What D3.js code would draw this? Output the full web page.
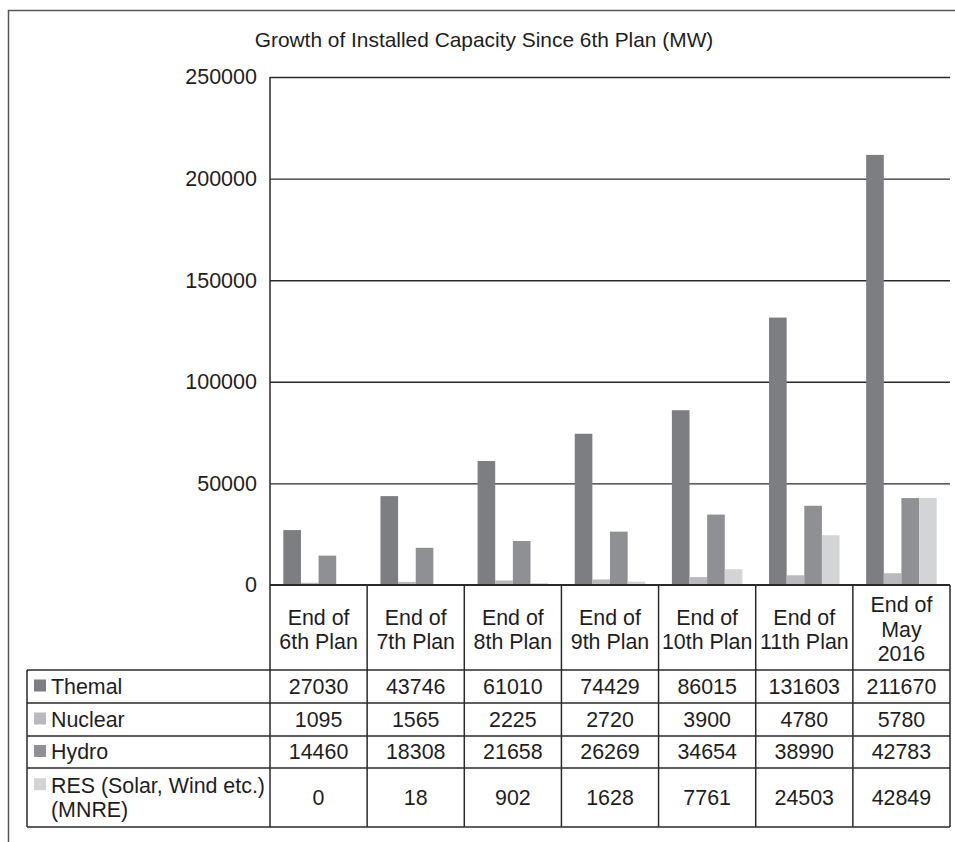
<!DOCTYPE html>
<html>
<head>
<meta charset="utf-8">
<script src="https://cdn.jsdelivr.net/npm/d3@7"></script>
<style>
  html, body { margin: 0; padding: 0; background: #fff; }
  svg { display: block; font-family: "Liberation Sans", Arial, sans-serif; }
</style>
</head>
<body>
<svg id="chart" width="955" height="842"></svg>
<script>
// Installed capacity (MW) by plan period
const categories = [
  ["End of", "6th Plan"],
  ["End of", "7th Plan"],
  ["End of", "8th Plan"],
  ["End of", "9th Plan"],
  ["End of", "10th Plan"],
  ["End of", "11th Plan"],
  ["End of", "May", "2016"]
];
const seriesNames = [["Themal"], ["Nuclear"], ["Hydro"], ["RES (Solar, Wind etc.)", "(MNRE)"]];
const thermal = [27030, 43746, 61010, 74429, 86015, 131603, 211670];
const nuclear = [1095, 1565, 2225, 2720, 3900, 4780, 5780];
const hydro   = [14460, 18308, 21658, 26269, 34654, 38990, 42783];
const res     = [0, 18, 902, 1628, 7761, 24503, 42849];
const yTicks  = [0, 50000, 100000, 150000, 200000, 250000];
const titleText = "Growth of Installed Capacity Since 6th Plan (MW)";

const series = [thermal, nuclear, hydro, res];
const colors = ["#7d7e82", "#b9babe", "#8f9094", "#d3d4d6"];

const svg = d3.select("#chart");
const plot = { left: 270, right: 950, top: 77, bottom: 585 };
const legendLeft = 27;
const rowEdges = [585, 670, 703, 736, 768, 827];
const lineColor = "#2a2a2a";
const textColor = "#1e1e1e";
const cellFont = 21.4;

// outer frame
svg.append("rect")
  .attr("x", 8.5).attr("y", 10.5)
  .attr("width", 1000).attr("height", 1000)
  .attr("fill", "none").attr("stroke", "#555").attr("stroke-width", 1.5);

// title
svg.append("text")
  .attr("x", 484).attr("y", 47)
  .attr("text-anchor", "middle")
  .attr("font-size", 20.9).attr("fill", textColor)
  .text(titleText);

// scales
const idx = d3.range(categories.length);
const x0 = d3.scaleBand().domain(idx).range([plot.left, plot.right]).padding(0);
const gap = x0.bandwidth() * 0.137;
const x1 = d3.scaleBand().domain(d3.range(series.length))
  .range([gap, x0.bandwidth() - gap]).padding(0);
const y = d3.scaleLinear().domain([0, 250000]).range([plot.bottom, plot.top]);

// gridlines
const grid = svg.append("g")
  .attr("transform", `translate(${plot.left},0)`)
  .call(d3.axisRight(y).tickValues(yTicks.filter(d => d > 0))
    .tickSize(plot.right - plot.left).tickFormat(""));
grid.select(".domain").remove();
grid.selectAll("line").attr("stroke", lineColor).attr("stroke-width", 1.4);

// y axis labels
const yAxis = svg.append("g")
  .attr("transform", `translate(${plot.left},0)`)
  .call(d3.axisLeft(y).tickValues(yTicks).tickSize(0).tickPadding(13)
    .tickFormat(d3.format("d")));
yAxis.select(".domain").remove();
yAxis.selectAll("text")
  .attr("font-size", 21.5).attr("fill", textColor)
  .attr("font-family", "Liberation Sans, Arial, sans-serif");

// bars
const groups = svg.append("g").selectAll("g")
  .data(idx).join("g")
  .attr("transform", i => `translate(${x0(i)},0)`);
groups.selectAll("rect")
  .data(i => series.map((s, k) => ({ k, v: s[i] })))
  .join("rect")
  .attr("x", d => x1(d.k))
  .attr("width", x1.bandwidth())
  .attr("y", d => y(d.v))
  .attr("height", d => y(0) - y(d.v))
  .attr("fill", d => colors[d.k]);

// zero baseline
svg.append("line")
  .attr("x1", plot.left).attr("x2", plot.right)
  .attr("y1", y(0)).attr("y2", y(0))
  .attr("stroke", lineColor).attr("stroke-width", 2);

// left axis line down through the table
svg.append("line")
  .attr("x1", plot.left).attr("x2", plot.left)
  .attr("y1", plot.top).attr("y2", rowEdges[rowEdges.length - 1])
  .attr("stroke", lineColor).attr("stroke-width", 1.5);

// data table
const table = svg.append("g");
const tableBottom = rowEdges[rowEdges.length - 1];
// column separators
idx.forEach(i => {
  table.append("line")
    .attr("x1", x0(i) + x0.bandwidth()).attr("x2", x0(i) + x0.bandwidth())
    .attr("y1", plot.bottom).attr("y2", tableBottom)
    .attr("stroke", lineColor).attr("stroke-width", 1.5);
});
// row separators
rowEdges.slice(1).forEach(ry => {
  table.append("line")
    .attr("x1", legendLeft).attr("x2", plot.right)
    .attr("y1", ry).attr("y2", ry)
    .attr("stroke", lineColor).attr("stroke-width", 1.5);
});
table.append("line")
  .attr("x1", legendLeft).attr("x2", legendLeft)
  .attr("y1", rowEdges[1]).attr("y2", tableBottom)
  .attr("stroke", lineColor).attr("stroke-width", 1.5);

// category headers
const lh = 24.5;
idx.forEach(i => {
  const lines = categories[i];
  const cy = (rowEdges[0] + rowEdges[1]) / 2 + 2;
  const t = table.append("text")
    .attr("x", x0(i) + x0.bandwidth() / 2)
    .attr("text-anchor", "middle")
    .attr("font-size", cellFont).attr("fill", textColor);
  lines.forEach((s, j) => {
    t.append("tspan")
      .attr("x", x0(i) + x0.bandwidth() / 2)
      .attr("y", cy + (j - (lines.length - 1) / 2) * lh)
      .attr("dy", "0.35em")
      .text(s);
  });
});

// rows: legend key + values
series.forEach((s, k) => {
  const top = rowEdges[k + 1], bot = rowEdges[k + 2];
  const cy = (top + bot) / 2;
  const names = seriesNames[k];
  const firstY = cy - (names.length - 1) / 2 * lh;
  table.append("rect")
    .attr("x", 34).attr("y", firstY - 7)
    .attr("width", 12).attr("height", 12)
    .attr("fill", colors[k]);
  const t = table.append("text")
    .attr("font-size", cellFont).attr("fill", textColor);
  names.forEach((n, j) => {
    t.append("tspan")
      .attr("x", 51).attr("y", firstY + j * lh)
      .attr("dy", "0.35em").text(n);
  });
  s.forEach((v, i) => {
    table.append("text")
      .attr("x", x0(i) + x0.bandwidth() / 2)
      .attr("y", cy).attr("dy", "0.35em")
      .attr("text-anchor", "middle")
      .attr("font-size", cellFont).attr("fill", textColor)
      .text(v);
  });
});
</script>
</body>
</html>
